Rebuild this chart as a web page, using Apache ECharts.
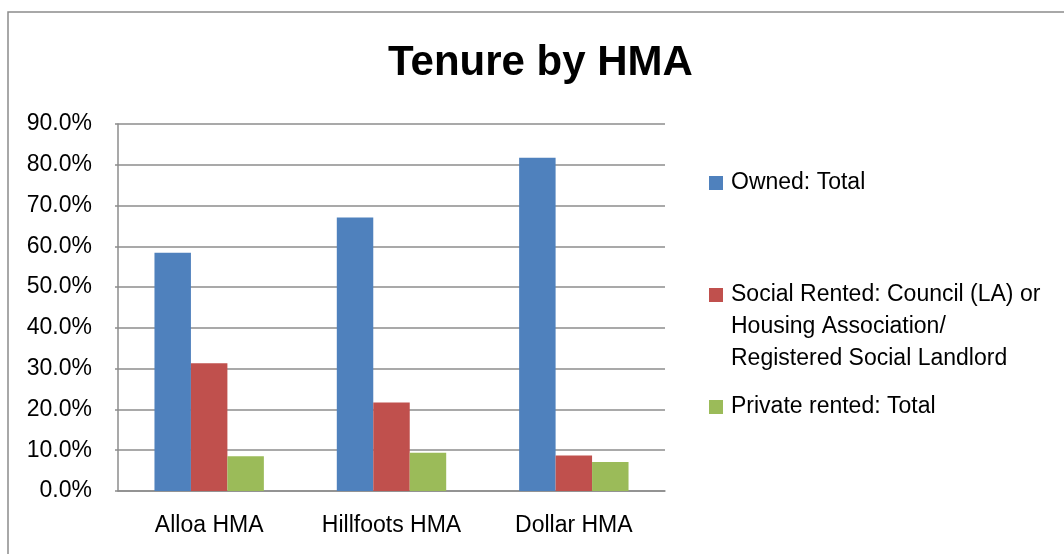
<!DOCTYPE html>
<html>
<head>
<meta charset="utf-8">
<script src="https://cdn.jsdelivr.net/npm/echarts@6/dist/echarts.min.js"></script>
<style>
  html, body { margin: 0; padding: 0; background: #fff; }
  #chart { width: 1064px; height: 554px; }
</style>
</head>
<body>
<div id="chart"></div>
<script>
  // categories
  var areas = ['Alloa HMA', 'Hillfoots HMA', 'Dollar HMA']
  // series names
  var ownedName = 'Owned: Total'
  var socialName = 'Social Rented: Council (LA) or\nHousing Association/\nRegistered Social Landlord'
  var privateName = 'Private rented: Total'
  // values (%)
  var owned = [58.4, 67.1, 81.7]
  var social = [31.3, 21.7, 8.7]
  var privateRented = [8.5, 9.4, 7.1]

  var font = 'Liberation Sans'
  var legendText = {fontFamily: font, fontSize: 23, color: '#000', lineHeight: 32, padding: [0, 0, 0, 3]}

  var myChart = echarts.init(document.getElementById('chart'))
  var option = {
    animation: false,
    title: {
      text: 'Tenure by HMA',
      left: 388,
      top: 42,
      padding: 0,
      textStyle: {fontFamily: font, fontSize: 42, fontWeight: 'bold', color: '#000'}
    },
    graphic: [{
      type: 'rect',
      shape: {x: 8, y: 12, width: 1100, height: 600},
      style: {fill: 'none', stroke: '#8c8c8c', lineWidth: 1.5},
      silent: true
    }],
    color: ['#4F81BD', '#C0504D', '#9BBB59'],
    legend: [
      {data: [ownedName], left: 709, top: 167, padding: 0, itemWidth: 14, itemHeight: 14,
        icon: 'rect', textStyle: legendText},
      // two blank lines on top keep the marker beside the first text line
      {data: [socialName], left: 709, top: 215, padding: 0, itemWidth: 14, itemHeight: 14,
        icon: 'rect', textStyle: legendText,
        formatter: function (name) { return '\n\n' + name }},
      {data: [privateName], left: 709, top: 391, padding: 0, itemWidth: 14, itemHeight: 14,
        icon: 'rect', textStyle: legendText}
    ],
    grid: {left: 118, right: 399, top: 124, bottom: 63},
    xAxis: {
      type: 'category',
      data: areas,
      axisLine: {lineStyle: {color: '#8c8c8c', width: 1.5}},
      axisTick: {show: false},
      axisLabel: {fontFamily: font, fontSize: 23, color: '#000', margin: 23}
    },
    yAxis: {
      type: 'value',
      min: 0,
      max: 90,
      interval: 10,
      axisLine: {show: true, lineStyle: {color: '#8c8c8c', width: 1.5}},
      axisTick: {show: true, length: 3, lineStyle: {color: '#8c8c8c', width: 1.5}},
      splitLine: {lineStyle: {color: '#8c8c8c', width: 1.5}},
      axisLabel: {
        fontFamily: font, fontSize: 23, color: '#000', margin: 26,
        formatter: function (v) { return v.toFixed(1) + '%' }
      }
    },
    series: [
      {name: ownedName, type: 'bar', data: owned, barGap: '0%', barCategoryGap: '40%'},
      {name: socialName, type: 'bar', data: social, barGap: '0%', barCategoryGap: '40%'},
      {name: privateName, type: 'bar', data: privateRented, barGap: '0%', barCategoryGap: '40%'}
    ]
  }
  myChart.setOption(option, true)
</script>
</body>
</html>
